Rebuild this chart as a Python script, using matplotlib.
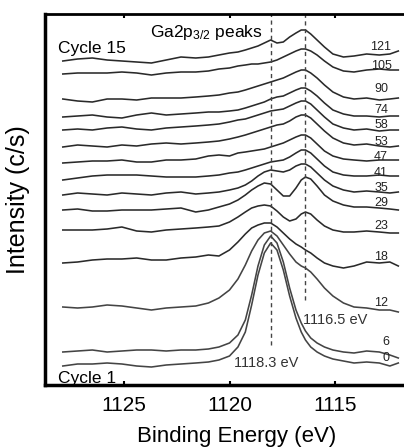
import matplotlib
matplotlib.use("Agg")
import matplotlib.pyplot as plt

plt.rcParams['font.family'] = ['Liberation Sans', 'DejaVu Sans']
plt.rcParams['mathtext.fontset'] = 'custom'
plt.rcParams['mathtext.rm'] = 'Liberation Sans'
plt.rcParams['mathtext.it'] = 'Liberation Sans'
plt.rcParams['mathtext.default'] = 'regular'

# Binding energy grid (eV)
energy = [1127.9, 1127.2, 1126.5, 1125.8, 1125.1, 1124.4, 1123.7, 1123.0, 1122.3, 1121.6,
          1121.0, 1120.5, 1120.0, 1119.6, 1119.25, 1118.95, 1118.65, 1118.35, 1118.05, 1117.75,
          1117.45, 1117.15, 1116.85, 1116.6, 1116.4, 1116.15, 1115.85, 1115.5, 1115.1, 1114.6,
          1114.1, 1113.5, 1112.9, 1112.4, 1112.0]

# stacked intensities (arbitrary units, offset per cycle)
c121 = [339,341,342,340,339,338,337,340,343,342,343,345,347,348,350,352,354,357,360,357,358,363,367,370,370,366,360,353,346,343,344,346,345,346,349]
c105 = [326,327,327,327,328,327,325,327,328,328,329,331,332,334,335,336,336,337,338,340,343,346,349,351,351,349,345,339,333,329,328,330,331,330,330]
c90 = [301,299,298,301,301,300,302,302,302,303,304,305,307,308,310,312,314,316,318,320,322,325,328,330,330,327,322,315,308,303,301,302,300,301,302]
c74 = [283,284,285,283,282,285,287,285,286,287,288,288,289,290,292,294,296,298,301,303,304,307,310,312,312,309,304,297,290,286,284,284,283,284,284]
c58 = [270,271,270,272,273,271,270,272,273,274,275,276,278,280,281,283,285,287,289,290,291,294,297,299,299,296,290,283,276,272,270,271,269,270,270]
c53 = [253,255,254,253,255,254,256,257,256,257,258,259,261,263,265,267,269,271,273,275,276,279,283,285,285,282,276,269,262,257,255,256,254,253,254]
c47 = [237,238,239,239,240,238,238,240,240,241,244,245,244,247,248,249,250,251,253,255,257,260,263,265,265,262,256,249,244,241,240,239,240,240,240]
c41 = [220,222,224,225,225,225,224,223,223,223,224,225,227,228,230,232,234,236,238,239,240,243,247,250,250,247,241,234,228,225,224,224,225,224,224]
c35 = [205,207,206,205,207,206,205,207,208,206,207,208,210,212,215,219,224,228,230,229,228,230,234,236,236,233,227,220,214,210,208,209,208,207,208]
c29 = [190,191,189,189,190,190,190,191,192,188,190,193,196,200,205,210,214,217,216,210,204,204,212,220,223,221,214,205,199,195,193,193,192,191,190]
c23 = [170,170,170,171,173,169,168,170,171,172,173,174,178,183,188,192,194,195,194,189,183,179,181,186,188,186,180,174,170,168,168,169,168,167,167]
c18 = [137,138,140,141,141,142,140,140,142,143,145,144,150,158,166,172,175,177,177,173,167,161,156,153,150,147,142,137,134,132,134,138,137,138,134]
c12 = [93,92,93,95,94,92,90,92,93,94,97,102,110,121,135,149,160,167,169,164,155,146,138,134,132,128,121,112,104,97,93,92,90,90,88]
c6 = [48,49,50,48,49,50,50,49,50,50,51,53,57,65,80,105,134,155,164,157,138,112,90,77,69,62,57,53,50,48,47,49,48,45,42]
c0 = [34,36,36,37,36,34,33,35,36,37,38,40,44,53,68,95,125,147,157,150,130,104,82,68,60,53,48,44,41,39,37,38,37,34,37]

cycles = ['121', '105', '90', '74', '58', '53', '47', '41', '35', '29', '23', '18', '12', '6', '0']
spectra = [c121, c105, c90, c74, c58, c53, c47, c41, c35, c29, c23, c18, c12, c6, c0]
label_y = [353, 334, 311, 290, 275, 258, 243, 227, 212, 197, 174, 143, 97, 58, 42]

peak_positions = [1118.05, 1116.4]
peak_line_bottom = [55, 100]
xticks = [1125, 1120, 1115]

fig = plt.figure(figsize=(4.04, 4.47), dpi=100)
ax = fig.add_axes([45/404, 62/447, 1 - 45/404, 371/447])
ax.set_xlim(1128.744, 1111.73)
ax.set_ylim(15, 386)

for name, spec in zip(cycles, spectra):
    col = '#2a2a2a' if name not in ('12', '6', '0') else '#444444'
    ax.plot(energy, spec, color=col, lw=1.15, solid_joinstyle='round')

for pos, bot in zip(peak_positions, peak_line_bottom):
    ax.vlines(pos, bot, 386, colors='#444444', linestyles=(0, (3, 2.5)), lw=1.0)

for name, yy in zip(cycles, label_y):
    xx = 1112.58 if name in ('6', '0') else 1112.82
    ax.text(xx, yy, name, ha='center', va='center', fontsize=9, color='#222222')

ax.text(1121.11, 363, 'Ga2p$_{3/2}$ peaks', ha='center', va='baseline', fontsize=12.5)
ax.text(1128.13, 352, 'Cycle 15', ha='left', va='center', fontsize=12.5)
ax.text(1128.15, 17, 'Cycle 1', ha='left', va='baseline', fontsize=12.5)
ax.text(1118.27, 37, '1118.3 eV', ha='center', va='center', fontsize=10.5, color='#333333')
ax.text(1115.0, 80, '1116.5 eV', ha='center', va='center', fontsize=10.5, color='#333333')

ax.spines['right'].set_visible(False)
ax.spines['left'].set_linewidth(2.5)
ax.spines['bottom'].set_linewidth(2.5)
ax.spines['top'].set_linewidth(2.0)
ax.set_xticks(xticks)
ax.set_xticklabels([str(t) for t in xticks])
ax.set_yticks([])
ax.tick_params(axis='x', direction='in', length=3, width=1.5, top=True, labelsize=15, pad=8)

ax.set_xlabel('Binding Energy (eV)', fontsize=16)
ax.xaxis.set_label_coords(0.533, -0.140)
ax.xaxis.label.set_va('center')
ax.set_ylabel('Intensity (c/s)', fontsize=18)
ax.yaxis.set_label_coords(-0.075, 0.499)
ax.yaxis.label.set_va('center')

fig.savefig('out.png', dpi=100)
